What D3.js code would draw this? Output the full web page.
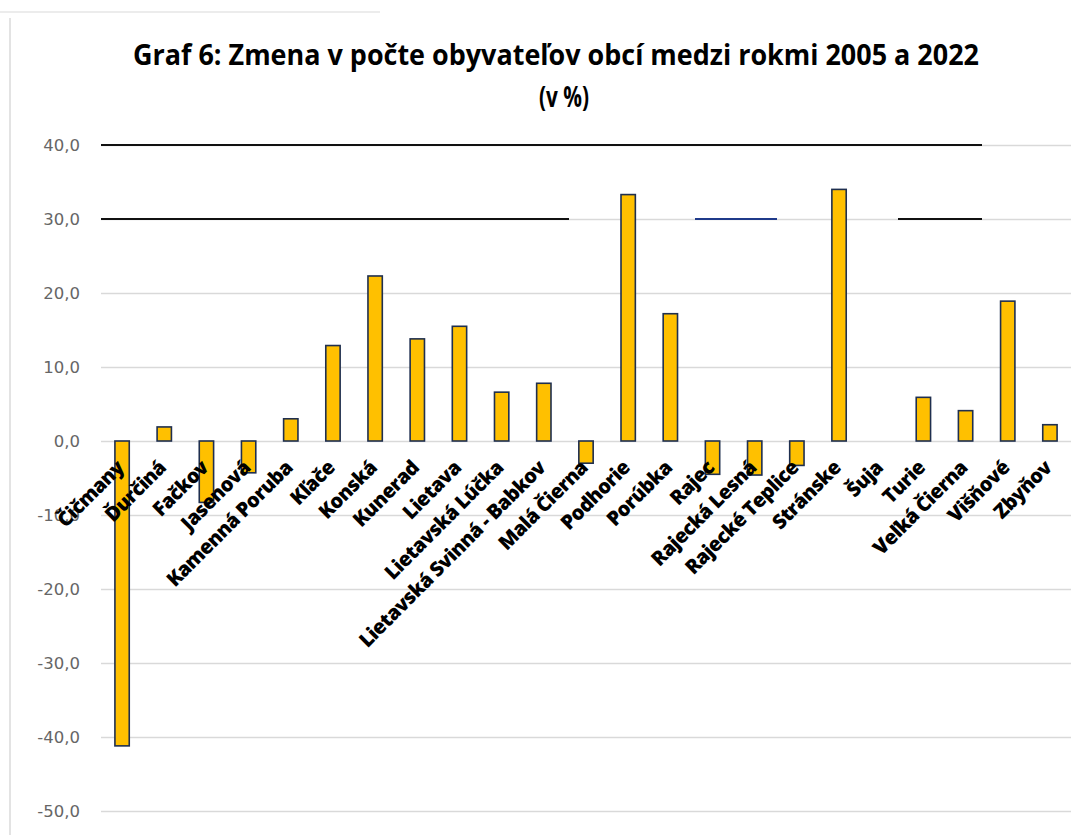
<!DOCTYPE html>
<html><head><meta charset="utf-8">
<script src="https://cdn.jsdelivr.net/npm/d3@7/dist/d3.min.js"></script>
<style>body{margin:0;background:#fff}svg{display:block}</style>
</head><body>
<svg id="c" width="1085" height="835"></svg>
<script>
const titleLines = ["Graf 6: Zmena v počte obyvateľov obcí medzi rokmi 2005 a 2022", "(v %)"];
const categories = ["Čičmany","Ďurčiná","Fačkov","Jasenová","Kamenná Poruba","Kľače","Konská","Kunerad","Lietava","Lietavská Lúčka","Lietavská Svinná - Babkov","Malá Čierna","Podhorie","Porúbka","Rajec","Rajecká Lesná","Rajecké Teplice","Stránske","Šuja","Turie","Veľká Čierna","Višňové","Zbyňov"];
const values = [-41.2,1.9,-8.3,-4.3,3.0,12.9,22.3,13.8,15.5,6.6,7.8,-3.0,33.3,17.2,-4.5,-4.6,-3.3,34.0,0.0,5.9,4.1,18.9,2.2];
const yTicks = [40,30,20,10,0,-10,-20,-30,-40,-50];

const svg = d3.select("#c");
const L = 101, R = 1071, T = 145, B = 811;
const x = d3.scaleBand().domain(categories).range([L, R]).paddingInner(0.66).paddingOuter(0.33);
const y = d3.scaleLinear().domain([-50, 40]).range([B, T]);

// faint chart border
svg.append("line").attr("x1",10).attr("x2",10).attr("y1",18).attr("y2",835).attr("stroke","#e3e3e3").attr("stroke-width",2);
svg.append("line").attr("x1",0).attr("x2",380).attr("y1",12).attr("y2",12).attr("stroke","#ececec").attr("stroke-width",2);

// gridlines
const yAxis = d3.axisLeft(y).tickValues(yTicks).tickSize(-(R - L))
  .tickFormat(d => (d < 0 ? "-" : "") + Math.abs(d).toFixed(1).replace(".", ","));
const ga = svg.append("g").attr("transform", `translate(${L},0)`).call(yAxis);
ga.select(".domain").remove();
ga.selectAll(".tick line").attr("stroke", "#d9d9d9").attr("stroke-width", 1.5);
ga.selectAll(".tick text").attr("x", -21).attr("fill", "#666").style("font-family","DejaVu Sans").style("font-size","16.5px");

// overlay lines seen in reference
const overlay = [[40,101,982,"#111"],[30,101,569,"#111"],[30,695,777,"#1f3a8a"],[30,898,982,"#111"]];
svg.append("g").selectAll("line").data(overlay).join("line")
  .attr("x1", d => d[1]).attr("x2", d => d[2]).attr("y1", d => y(d[0])).attr("y2", d => y(d[0]))
  .attr("stroke", d => d[3]).attr("stroke-width", 2.2);

// bars
const barData = values.map((v,i)=>({c:categories[i],v})).filter(d=>d.v!==0);
svg.append("g").selectAll("rect").data(barData).join("rect")
  .attr("x", d => x(d.c)).attr("width", x.bandwidth())
  .attr("y", d => y(Math.max(0, d.v))).attr("height", d => Math.abs(y(d.v) - y(0)))
  .attr("fill", "#FFC000").attr("stroke", "#1f2f4f").attr("stroke-width", 1.6);

// x labels
svg.append("g").selectAll("text").data(categories).join("text")
  .attr("transform", d => `translate(${x(d) + x.bandwidth()/2 + 3},${y(0) + 28}) rotate(-45)`)
  .attr("text-anchor", "end")
  .style("font-family", "Open Sans").style("font-weight", "800").style("font-size", "20px")
  .attr("fill", "#000").attr("letter-spacing", "-0.6")
  .text(d => d);

// title
svg.append("text").attr("x", 556).attr("y", 65).attr("text-anchor","middle")
  .attr("textLength", 846).attr("lengthAdjust","spacingAndGlyphs")
  .style("font-family","Open Sans").style("font-weight","700").style("font-size","28px").attr("fill","#000").text(titleLines[0]);
svg.append("text").attr("x", 564).attr("y", 107).attr("text-anchor","middle")
  .attr("textLength", 50).attr("lengthAdjust","spacingAndGlyphs")
  .style("font-family","Open Sans").style("font-weight","700").style("font-size","29px").attr("fill","#000").text(titleLines[1]);
</script>
</body></html>
